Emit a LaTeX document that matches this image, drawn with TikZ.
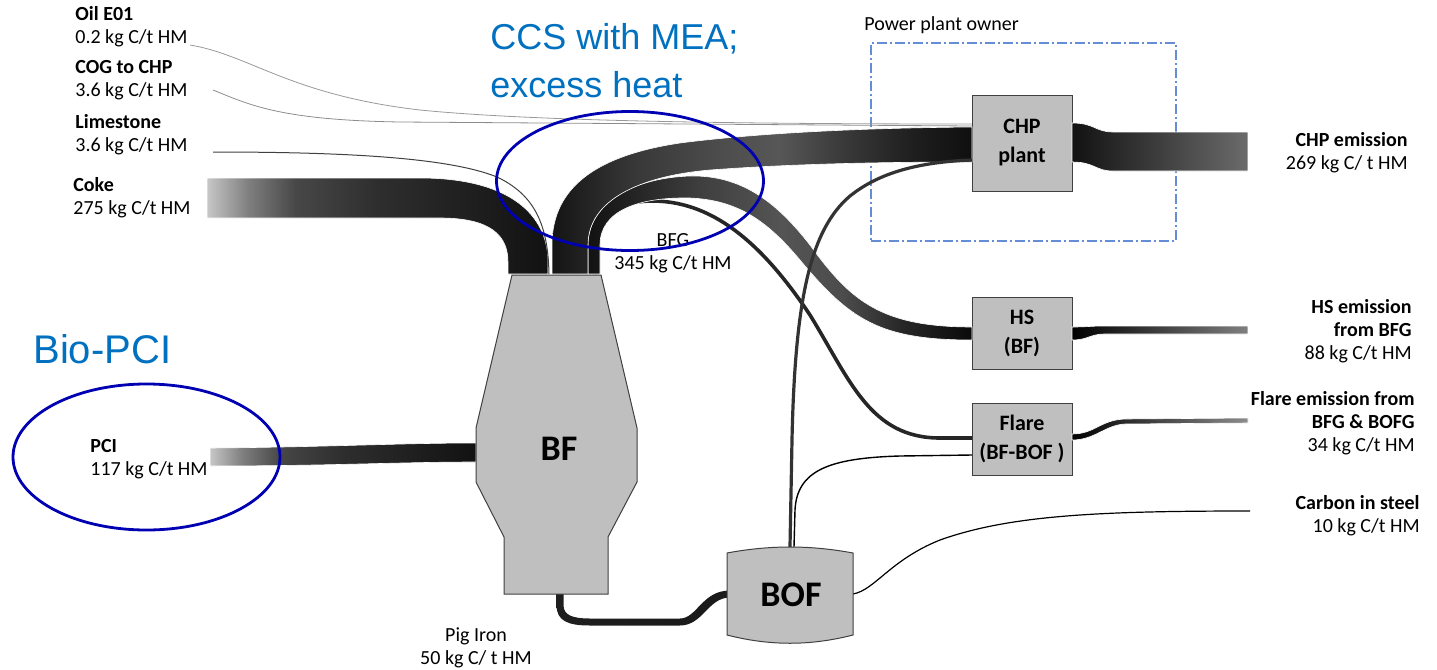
\documentclass[tikz,border=0pt]{standalone}
\usepackage{fontspec}
\setmainfont{Carlito}
\newfontfamily\headfont{Liberation Sans}
\usetikzlibrary{shapes.geometric,positioning}
\definecolor{unitFill}{gray}{0.75}
\definecolor{unitLine}{gray}{0.25}
\definecolor{flowLight}{gray}{0.78}
\definecolor{flowMid}{gray}{0.22}
\definecolor{flowGray}{gray}{0.34}
\definecolor{flowDark}{gray}{0.07}
\definecolor{ringBlue}{RGB}{0,0,178}
\definecolor{noteBlue}{RGB}{0,112,192}
\definecolor{ownerBlue}{RGB}{100,140,215}
% horizontal fades, the path box spans 25bp to 75bp
\pgfdeclarehorizontalshading{inFade}{100bp}{color(0bp)=(flowLight); color(25bp)=(flowLight);
	color(31bp)=(black!50); color(38bp)=(black!72); color(50bp)=(black!82); color(75bp)=(black!93); color(100bp)=(black!93)}
\pgfdeclarehorizontalshading{chpFade}{100bp}{color(0bp)=(black!92); color(25bp)=(black!92);
	color(35bp)=(black!78); color(45bp)=(black!70); color(52bp)=(black!66); color(60bp)=(black!78);
	color(68bp)=(black!88); color(75bp)=(black!94); color(100bp)=(black!94)}
\pgfdeclarehorizontalshading{hsFade}{100bp}{color(0bp)=(black!93); color(25bp)=(black!93);
	color(40bp)=(black!75); color(50bp)=(black!67); color(58bp)=(black!70); color(66bp)=(black!85);
	color(75bp)=(black!96); color(100bp)=(black!96)}

\begin{document}
\begin{tikzpicture}[
	x=0.5pt, y=-0.5pt,
	font=\fontsize{10}{11.5}\selectfont,
	lbl/.style={inner sep=0pt, align=left, anchor=west},
	rlbl/.style={inner sep=0pt, align=right, anchor=east},
	unit/.style={draw=unitLine, fill=unitFill, line width=0.5pt, minimum width=50pt,
		outer sep=0pt, align=center, font=\fontsize{11}{14.5}\selectfont\bfseries},
	furnace/.style={draw=unitLine, fill=unitFill, line width=0.5pt},
	bigtxt/.style={inner sep=0pt, font=\fontsize{18}{20}\selectfont\bfseries},
	flow/.style={draw=white, line width=0.3pt},
	pipe/.style={draw=black!80, line width=1.6pt},
	wire/.style={draw=black, line width=0.5pt},
	ring/.style={draw=ringBlue, line width=1.4pt, ellipse, inner sep=0pt},
	note/.style={text=noteBlue, inner sep=0pt, align=left, anchor=west},
	ownerbox/.style={draw=ownerBlue, line width=0.6pt,
		dash pattern=on 5pt off 1.5pt on 1pt off 1.5pt},
	]
	\useasboundingbox (0,0) rectangle (1437,670);

	% units
	\node [ownerbox, minimum width=152.5pt, minimum height=99pt] (owner) at (1023.5,142) {};
	\node [lbl] (ownerlbl) at (864,25) {Power plant owner};
	\node [unit, minimum height=48pt] (chp) at (1022,143) {CHP\\plant};
	\node [unit, minimum height=36pt] (hs) at (1022,333) {HS\\(BF)};
	\node [unit, minimum height=36pt] (flare) at (1022,439) {Flare\\(BF-BOF )};

	% BFG split: flare, HS, CHP
	\draw [draw=black!85, line width=1.8pt] (595,274) -- (595,240) .. controls (595,212) and (620,202) .. (650,201)
		.. controls (710,200) and (760,240) .. (810,315) .. controls (850,380) and (870,438) .. (940,438) -- (flare.west |- 0,438);
	\shade [flow, shading=hsFade]
		(588,274) -- (588,245) .. controls (588,205) and (630,178) .. (690,176)
		.. controls (740,175) and (775,200) .. (810,245) .. controls (850,300) and (880,327) .. (972,327)
		-- (972,340) .. controls (880,340) and (850,320) .. (800,260)
		.. controls (765,218) and (735,200) .. (690,198) .. controls (640,197) and (600,210) .. (600,245) -- (600,274) -- cycle;
	\shade [flow, shading=chpFade]
		(552,274) -- (552,245) .. controls (552,185) and (600,155) .. (680,143)
		.. controls (750,134) and (850,128) .. (972,127)
		-- (972,162) .. controls (880,162) and (790,164) .. (710,170)
		.. controls (640,176) and (588,200) .. (588,245) -- (588,274) -- cycle;

	% inputs
	\shade [flow, shading=inFade]
		(207,178) -- (420,178) .. controls (510,178) and (548,215) .. (548,262) -- (548,274)
		-- (508,274) -- (508,262) .. controls (508,235) and (490,218) .. (440,218) -- (207,218) -- cycle;
	\shade [flow, shading=inFade]
		(210,448) .. controls (330,447) and (400,443) .. (476,443)
		-- (476,462) .. controls (400,462) and (330,466) .. (210,466) -- cycle;
	\draw [wire, draw=black!75] (213,152) .. controls (350,152) and (450,158) .. (497,177)
		.. controls (535,195) and (548,225) .. (549,274);
	\draw [wire, draw=black!40, line width=0.4pt] (190,45) .. controls (250,55) and (290,95) .. (420,110)
		.. controls (520,120) and (700,124) .. (972,124);
	\draw [wire, draw=black!45, line width=0.4pt] (213,90) .. controls (250,105) and (280,120) .. (400,122) -- (972,126);

	% outputs
	\shade [flow, left color=flowDark, right color=black!58]
		(1072,123) .. controls (1095,123) and (1095,132) .. (1113,132) -- (1248,132)
		-- (1248,171) -- (1113,171) .. controls (1095,171) and (1095,162) .. (1072,162) -- cycle;
	\shade [flow, left color=black, right color=black!50]
		(1072,327) .. controls (1088,327) and (1090,326) .. (1105,326) -- (1248,326)
		-- (1248,334) -- (1105,334) .. controls (1090,334) and (1088,340) .. (1072,340) -- cycle;
	\shade [flow, left color=black, right color=black!45]
		(1072,434) .. controls (1095,434) and (1100,420) .. (1125,419) -- (1248,418)
		-- (1248,423) -- (1125,424) .. controls (1105,425) and (1095,440) .. (1072,440) -- cycle;

	% BOF lines
	\draw [pipe] (790,547) -- (792,440) .. controls (795,300) and (810,230) .. (850,196)
		.. controls (880,172) and (920,162) .. (972,160);
	\draw [wire, line width=0.7pt] (794,547) -- (795,510) .. controls (797,470) and (830,458) .. (900,456) -- (972,455);
	\coordinate (steelend) at (1250,511);
	\draw [wire, line width=0.6pt] (853,594) .. controls (875,590) and (890,560) .. (940,540)
		.. controls (1010,515) and (1100,511) .. (steelend);
	\shade [left color=black!88, middle color=black!62, right color=black!90]
		(556.5,590) -- (556.5,605) .. controls (556.5,621) and (568,625.5) .. (590,625.5) -- (680,625.5)
		.. controls (703,625.5) and (708,597.5) .. (730,597.5) -- (730,590.5)
		.. controls (702,590.5) and (697,618.5) .. (680,618.5) -- (590,618.5)
		.. controls (572,618.5) and (563.5,615) .. (563.5,605) -- (563.5,590) -- cycle;

	% furnaces
	\draw [furnace] (512,275) -- (601,275) -- (637,428) -- (637,482) -- (608,537) -- (608,594)
		-- (504,594) -- (504,537) -- (476,482) -- (476,428) -- cycle;
	\node [bigtxt] (bf) at (559,449) {BF};
	\draw [furnace] (727,553) .. controls (770,545) and (810,545) .. (853,553) -- (853,635)
		.. controls (810,646) and (770,646) .. (727,635) -- cycle;
	\node [bigtxt] (bof) at (791,595) {BOF};

	% labels
	\node [lbl] (oil) at (75,27) {\textbf{Oil E01}\\0.2 kg C/t HM};
	\node [lbl] (cog) at (75,80) {\textbf{COG to CHP}\\3.6 kg C/t HM};
	\node [lbl] (lime) at (75,135) {\textbf{Limestone}\\3.6 kg C/t HM};
	\node [lbl] (coke) at (73,198) {\textbf{Coke}\\275 kg C/t HM};
	\node [lbl] (pci) at (90,459) {\textbf{PCI}\\117 kg C/t HM};
	\node [inner sep=0pt, align=center] (bfg) at (673,253) {BFG\\345 kg C/t HM};
	\node [inner sep=0pt, align=center] (pig) at (476,648) {Pig Iron\\50 kg C/ t HM};
	\node [rlbl] (chpout) at (1408,153) {\textbf{CHP emission}\\269 kg C/ t HM};
	\node [rlbl] (hsout) at (1412,331) {\textbf{HS emission}\\\textbf{from BFG}\\88 kg C/t HM};
	\node [rlbl] (flareout) at (1415,423) {\textbf{Flare emission from}\\\textbf{BFG \& BOFG}\\34 kg C/t HM};
	\node [rlbl] (steel) at (1420,516) {\textbf{Carbon in steel}\\10 kg C/t HM};

	% options
	\node [ring, minimum width=133.5pt, minimum height=69.5pt] (ccsring) at (630,181) {};
	\node [ring, minimum width=133.5pt, minimum height=73pt] (pciring) at (146.5,457) {};
	\node [note, font=\headfont\fontsize{18}{24}\selectfont] (ccs) at (490,61) {CCS with MEA;\\excess heat};
	\node [note, font=\headfont\fontsize{20}{24}\selectfont] (bio) at (33,349) {Bio-PCI};
\end{tikzpicture}
\end{document}
